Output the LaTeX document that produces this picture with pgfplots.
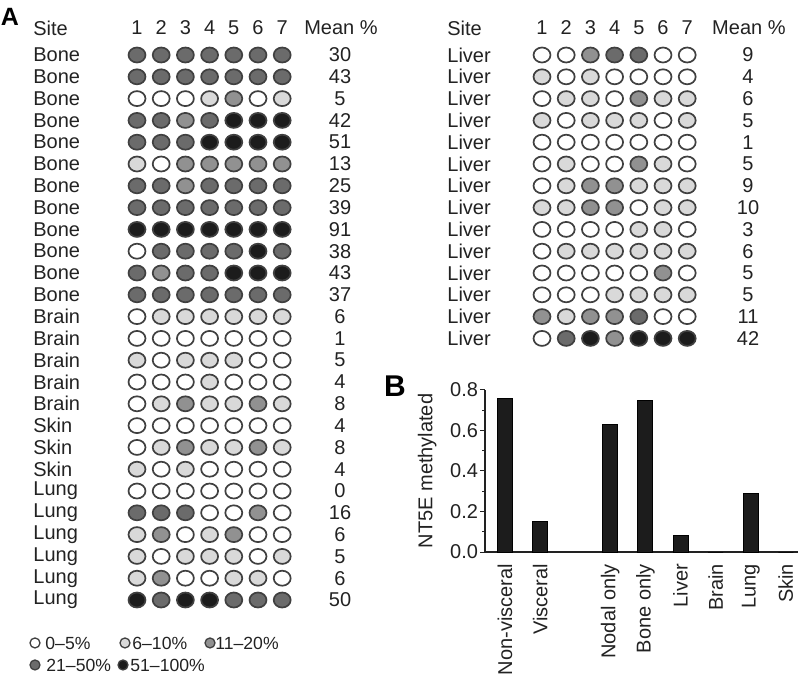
\documentclass[border=0pt]{standalone}
\usepackage{fontspec}
\setmainfont{Liberation Sans}
\usepackage{pgfplots}
\usepackage{pgfplotstable}
\pgfplotsset{compat=1.18}

\definecolor{lev0}{HTML}{FFFFFF}
\definecolor{lev1}{HTML}{D9D9D9}
\definecolor{lev2}{HTML}{919191}
\definecolor{lev3}{HTML}{6B6B6B}
\definecolor{lev4}{HTML}{1C1C1C}
\definecolor{ring}{HTML}{404040}
\definecolor{ink}{HTML}{222222}

% class of each sample (columns 1-7):
% 0 = 0-5%, 1 = 6-10%, 2 = 11-20%, 3 = 21-50%, 4 = 51-100%
\pgfplotstableread{
row site  mean c1 c2 c3 c4 c5 c6 c7
1   Bone  30   3  3  3  3  3  3  3
2   Bone  43   3  3  3  3  3  3  3
3   Bone  5    0  0  0  1  2  0  1
4   Bone  42   3  3  2  3  4  4  4
5   Bone  51   3  3  3  4  4  4  4
6   Bone  13   1  0  2  2  2  2  2
7   Bone  25   3  3  2  3  3  3  3
8   Bone  39   3  3  3  3  3  3  3
9   Bone  91   4  4  4  4  4  4  4
10  Bone  38   0  3  3  3  3  4  3
11  Bone  43   3  2  3  3  4  4  4
12  Bone  37   3  3  3  3  3  3  3
13  Brain 6    0  1  1  1  1  1  1
14  Brain 1    0  0  0  0  0  0  0
15  Brain 5    1  0  1  1  1  0  0
16  Brain 4    0  0  0  1  0  0  0
17  Brain 8    0  1  2  1  1  2  1
18  Skin  4    0  0  0  0  0  0  0
19  Skin  8    0  1  2  1  1  2  1
20  Skin  4    1  0  1  0  0  0  0
21  Lung  0    0  0  0  0  0  0  0
22  Lung  16   3  3  3  0  0  2  0
23  Lung  6    1  2  0  1  2  0  0
24  Lung  5    1  0  1  1  1  0  1
25  Lung  6    1  2  0  0  1  1  0
26  Lung  50   4  3  4  4  3  3  3
}\leftdata

\pgfplotstableread{
row site  mean c1 c2 c3 c4 c5 c6 c7
1   Liver 9    0  0  2  3  3  0  0
2   Liver 4    1  0  1  0  0  0  0
3   Liver 6    0  1  1  0  2  1  1
4   Liver 5    1  0  1  1  1  0  1
5   Liver 1    0  0  0  0  0  0  0
6   Liver 5    0  1  0  0  2  1  0
7   Liver 9    0  1  2  2  1  1  1
8   Liver 10   1  1  2  2  0  1  1
9   Liver 3    0  0  0  0  1  1  0
10  Liver 6    0  1  1  1  1  1  1
11  Liver 5    0  0  0  0  0  2  0
12  Liver 5    0  0  0  1  1  1  1
13  Liver 11   2  1  2  2  3  0  0
14  Liver 42   0  3  4  2  4  4  4
}\rightdata

\newcommand{\txt}{\fontsize{10}{12}\selectfont}
\newcommand{\keyfont}{\fontsize{8.8}{10}\selectfont}

\tikzset{hdr/.style={font=\txt, text=ink, inner sep=0pt}}

\pgfplotsset{
  dotclasses/.style={
    only marks, scatter, scatter src=explicit symbolic, mark=*,
    scatter/classes={
      0={draw=ring, fill=lev0},
      1={draw=ring, fill=lev1},
      2={draw=ring, fill=lev2},
      3={draw=ring, fill=lev3},
      4={draw=ring, fill=lev4}},
  },
  dots/.style={dotclasses, mark size=3.75pt,
    mark options={line width=0.85pt, xscale=1.13}},
  keydots/.style={dotclasses, mark size=2.5pt,
    mark options={line width=0.65pt}},
  names/.style={only marks, mark=*, mark size=0pt,
    mark options={draw=none, fill=none},
    point meta=explicit symbolic, nodes near coords,
    every node near coord/.append style={font=\txt, text=ink, inner sep=0pt}},
  panel/.style={scale only axis, hide axis, clip=false, y dir=reverse,
    height=337.5pt, ymin=-1.523, ymax=29.44},
}

\begin{document}
\begin{tikzpicture}
\path[use as bounding box] (0pt,0pt) rectangle (399pt,337.5pt);

% ---- A, left block
\begin{axis}[panel, at={(0pt,0pt)}, anchor=south west,
  width=200pt, xmin=-4.661, xmax=11.868]
\pgfplotsinvokeforeach{1,...,7}{
  \addplot[dots] table[x expr=#1, y=row, meta=c#1] {\leftdata};
  \node[hdr] at (axis cs:#1,-0.239) {#1};
}
\addplot[names, nodes near coords align={anchor=west}]
  table[x expr=-3.297, y=row, meta=site] {\leftdata};
\addplot[names, nodes near coords align={anchor=center}]
  table[x expr=9.389, y=row, meta=mean] {\leftdata};
\node[hdr, anchor=west] at (axis cs:-3.297,-0.239) {Site};
\node[hdr] at (axis cs:9.43,-0.239) {Mean \%};
\node[font=\bfseries\fontsize{12.5}{14}\selectfont, inner sep=0pt]
  at (axis cs:-4.248,-0.743) {A};
% key
\addplot[keydots] coordinates {
  (-3.215,27.97) [0] (0.504,27.97) [1] (4.017,27.97) [2]
  (-3.215,28.98) [3] (0.422,28.98) [4]};
\addplot[names, nodes near coords align={anchor=west},
  every node near coord/.append style={font=\keyfont}] coordinates {
  (-2.80,27.97) [0–5\%] (0.794,27.97) [6–10\%] (4.223,27.97) [11–20\%]
  (-2.76,28.98) [21–50\%] (0.711,28.98) [51–100\%]};
\end{axis}

% ---- A, right block
\begin{axis}[panel, at={(200pt,0pt)}, anchor=south west,
  width=199pt, xmin=-4.868, xmax=11.578]
\pgfplotsinvokeforeach{1,...,7}{
  \addplot[dots] table[x expr=#1, y=row, meta=c#1] {\rightdata};
  \node[hdr] at (axis cs:#1,-0.239) {#1};
}
\addplot[names, nodes near coords align={anchor=west}]
  table[x expr=-2.926, y=row, meta=site] {\rightdata};
\addplot[names, nodes near coords align={anchor=center}]
  table[x expr=9.512, y=row, meta=mean] {\rightdata};
\node[hdr, anchor=west] at (axis cs:-2.926,-0.239) {Site};
\node[hdr] at (axis cs:9.55,-0.239) {Mean \%};
\end{axis}

% ---- B
\begin{axis}[at={(242.5pt,61.5pt)}, anchor=south west,
  scale only axis, width=156.5pt, height=81pt, clip=false,
  xmin=-0.57, xmax=8.347, ymin=0, ymax=0.8,
  axis lines=left, axis line style={ink, line width=0.6pt, -},
  ybar, bar width=7.5pt,
  xtick={0,1,3,4,5,6,7,8},
  xticklabels={Non-visceral,Visceral,Nodal only,Bone only,Liver,Brain,Lung,Skin},
  x tick label style={rotate=90, anchor=east},
  major x tick style={draw=none},
  ytick={0,0.2,0.4,0.6,0.8}, minor y tick num=1,
  tick align=outside, major tick length=2.5pt, minor tick length=1.5pt,
  tick style={ink, line width=0.5pt},
  tick label style={font=\txt, text=ink},
  /pgf/number format/assume math mode=true,
  y tick label style={xshift=2.5pt,
    /pgf/number format/.cd, fixed, fixed zerofill, precision=1},
  ylabel={NT5E methylated}, ylabel style={font=\txt, text=ink},
]
\addplot[fill=lev4, draw=black, line width=0.5pt] coordinates {
  (0,0.76) (1,0.15) (3,0.63) (4,0.75) (5,0.08) (6,0) (7,0.29) (8,0)};
\node[font=\bfseries\fontsize{15}{17}\selectfont, inner sep=0pt]
  at (rel axis cs:-0.2875,1.025) {B};
\end{axis}
\end{tikzpicture}
\end{document}
